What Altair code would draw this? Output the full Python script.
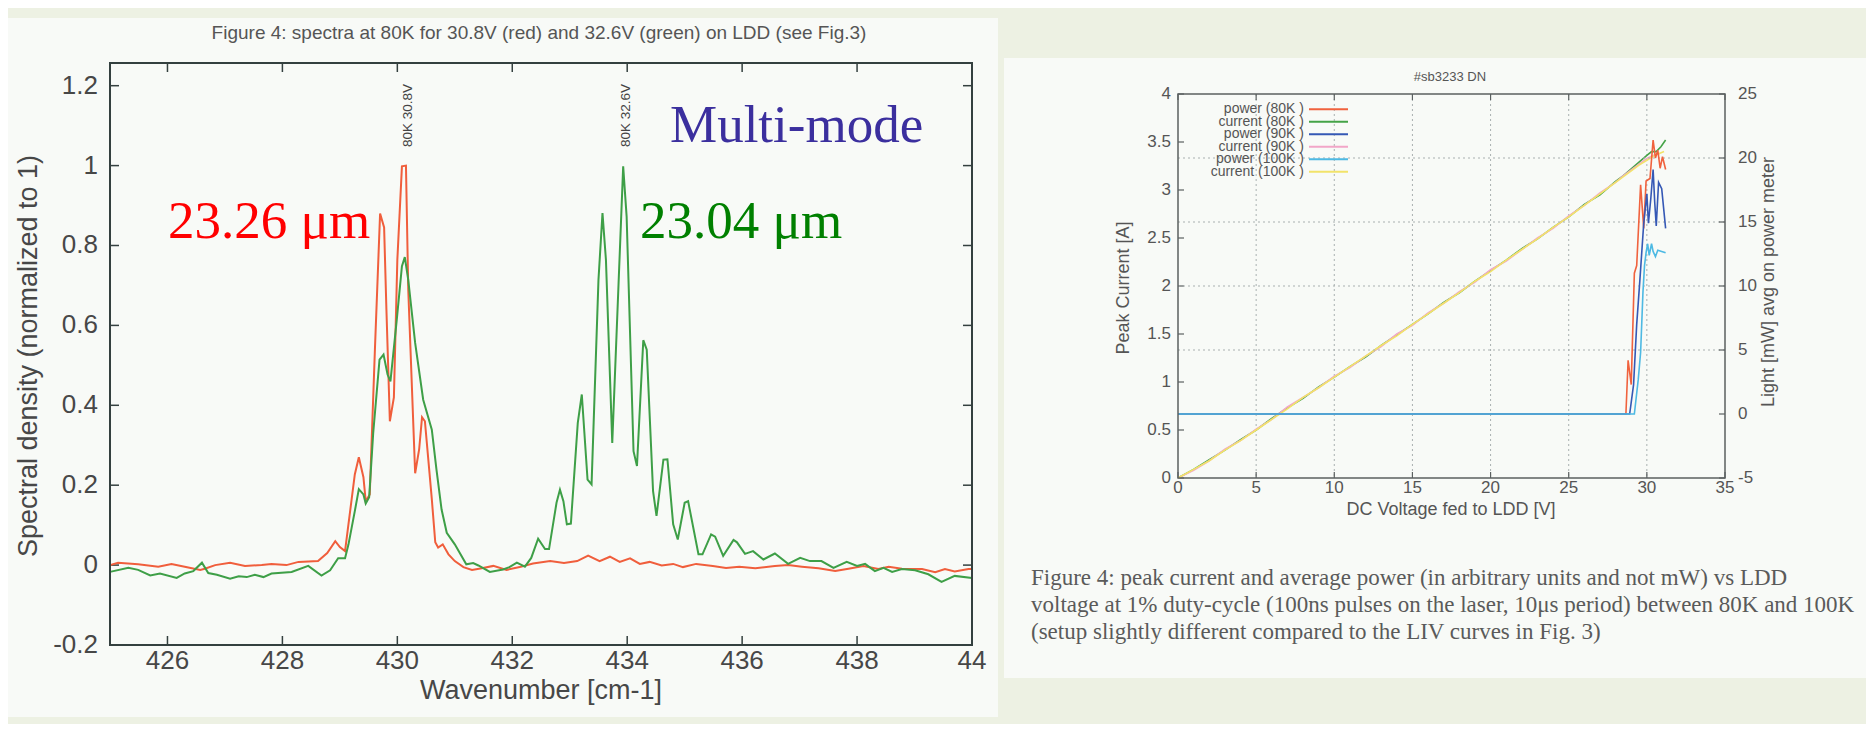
import altair as alt
import pandas as pd

# ------------------------------------------------------------------ data
# Left: spectra (wavenumber [cm-1], normalized spectral density)
red_wn = [425.00, 425.14, 425.49, 425.84, 426.07, 426.30, 426.57, 426.65, 426.83, 427.09,
          427.35, 427.64, 427.81, 428.07, 428.28, 428.62, 428.78, 428.92, 429.00, 429.09,
          429.26, 429.33, 429.41, 429.45, 429.52, 429.61, 429.70, 429.77, 429.81, 429.87,
          429.94, 430.00, 430.08, 430.15, 430.19, 430.31, 430.38, 430.43, 430.48, 430.60,
          430.66, 430.71, 430.79, 430.89, 431.00, 431.15, 431.30, 431.47, 431.67, 431.90,
          432.13, 432.36, 432.66, 432.90, 433.13, 433.32, 433.52, 433.70, 433.87, 434.05,
          434.22, 434.39, 434.60, 434.80, 434.97, 435.20, 435.49, 435.72, 435.95, 436.23,
          436.57, 436.80, 437.04, 437.33, 437.62, 437.85, 438.11, 438.37, 438.55, 438.78,
          439.13, 439.36, 439.53, 439.70, 439.94, 440.00]
red_val = [0.000, 0.006, 0.002, -0.004, 0.003, -0.004, -0.012, -0.009, 0.000, 0.006,
           -0.002, 0.000, 0.003, 0.000, 0.008, 0.010, 0.030, 0.060, 0.045, 0.035,
           0.227, 0.270, 0.220, 0.160, 0.177, 0.540, 0.880, 0.845, 0.640, 0.360,
           0.420, 0.764, 0.998, 1.000, 0.690, 0.230, 0.290, 0.370, 0.360, 0.165,
           0.057, 0.044, 0.052, 0.027, 0.010, -0.005, -0.012, -0.008, -0.002, -0.012,
           -0.005, 0.004, 0.010, 0.005, 0.010, 0.024, 0.010, 0.021, 0.008, 0.017,
           0.003, 0.008, -0.001, 0.003, -0.005, 0.003, -0.002, -0.007, -0.004, -0.008,
           -0.002, 0.000, -0.004, -0.008, -0.015, -0.009, -0.002, -0.010, -0.004, -0.009,
           -0.010, -0.018, -0.010, -0.016, -0.010, -0.010]

green_wn = [425.00, 425.32, 425.49, 425.70, 425.87, 426.16, 426.30, 426.45, 426.60, 426.71,
            426.86, 427.09, 427.24, 427.38, 427.52, 427.67, 427.81, 428.16, 428.45, 428.68,
            428.83, 428.97, 429.09, 429.15, 429.26, 429.33, 429.41, 429.45, 429.51, 429.58,
            429.69, 429.76, 429.83, 429.88, 429.99, 430.08, 430.13, 430.19, 430.31, 430.45,
            430.60, 430.68, 430.77, 430.86, 431.00, 431.20, 431.32, 431.41, 431.61, 431.84,
            431.95, 432.08, 432.22, 432.33, 432.45, 432.57, 432.64, 432.77, 432.83, 432.89,
            432.95, 433.02, 433.14, 433.21, 433.31, 433.38, 433.50, 433.57, 433.63, 433.74,
            433.85, 433.93, 433.99, 434.11, 434.17, 434.28, 434.34, 434.45, 434.51, 434.63,
            434.70, 434.80, 434.88, 435.00, 435.06, 435.24, 435.31, 435.46, 435.53, 435.67,
            435.85, 435.91, 436.05, 436.19, 436.37, 436.57, 436.80, 437.01, 437.18, 437.38,
            437.59, 437.82, 438.00, 438.14, 438.31, 438.46, 438.61, 438.78, 439.01, 439.24,
            439.47, 439.70, 440.00]
green_val = [-0.017, -0.007, -0.012, -0.026, -0.021, -0.032, -0.021, -0.015, 0.006, -0.020,
             -0.024, -0.034, -0.028, -0.030, -0.024, -0.030, -0.021, -0.017, -0.002, -0.026,
             -0.013, 0.017, 0.017, 0.052, 0.135, 0.190, 0.177, 0.154, 0.170, 0.330,
             0.514, 0.527, 0.477, 0.460, 0.614, 0.748, 0.771, 0.714, 0.556, 0.414,
             0.339, 0.240, 0.139, 0.081, 0.052, 0.002, 0.005, -0.001, -0.017, -0.011,
             -0.005, 0.006, -0.004, 0.018, 0.066, 0.040, 0.040, 0.156, 0.189, 0.160,
             0.102, 0.104, 0.356, 0.427, 0.214, 0.202, 0.714, 0.881, 0.764, 0.306,
             0.706, 0.998, 0.873, 0.285, 0.248, 0.563, 0.539, 0.185, 0.123, 0.264,
             0.265, 0.102, 0.064, 0.156, 0.160, 0.027, 0.027, 0.077, 0.071, 0.023,
             0.063, 0.057, 0.028, 0.035, 0.014, 0.029, 0.003, 0.018, 0.010, 0.010,
             -0.007, 0.008, -0.002, 0.003, -0.015, -0.007, -0.017, -0.010, -0.013, -0.023,
             -0.042, -0.027, -0.032]

spec_x_ticks = [426, 428, 430, 432, 434, 436, 438, 440]
spec_y_ticks = [-0.2, 0, 0.2, 0.4, 0.6, 0.8, 1.0, 1.2]

# Right: LIV curves (DC voltage [V] -> peak current [A] / light [mW])
cur80_v = [0, 1, 2, 3, 4, 5, 6, 7, 8, 9, 10, 11, 12, 13, 14, 15, 16, 17, 18, 19, 20,
           21, 22, 23, 24, 25, 26, 27, 28, 28.5, 29, 29.5, 30, 30.3, 30.6, 30.9, 31.2]
cur80_i = [0.00, 0.09, 0.19, 0.29, 0.40, 0.50, 0.62, 0.73, 0.83, 0.95, 1.05, 1.16, 1.26,
           1.38, 1.49, 1.60, 1.71, 1.83, 1.93, 2.05, 2.16, 2.27, 2.39, 2.49, 2.61, 2.72,
           2.85, 2.95, 3.09, 3.15, 3.22, 3.29, 3.36, 3.40, 3.40, 3.45, 3.52]
cur90_v = [0, 1, 2, 3, 4, 5, 6, 7, 8, 9, 10, 11, 12, 13, 14, 15, 16, 17, 18, 19, 20,
           21, 22, 23, 24, 25, 26, 27, 28, 28.5, 29, 29.5, 30, 30.4, 30.8]
cur90_i = [0.00, 0.08, 0.18, 0.30, 0.39, 0.51, 0.61, 0.74, 0.84, 0.94, 1.06, 1.15, 1.27,
           1.37, 1.50, 1.59, 1.72, 1.82, 1.94, 2.04, 2.17, 2.26, 2.38, 2.50, 2.60, 2.73,
           2.84, 2.97, 3.08, 3.15, 3.21, 3.27, 3.33, 3.36, 3.38]
cur100_v = [0, 1, 2, 3, 4, 5, 6, 7, 8, 9, 10, 11, 12, 13, 14, 15, 16, 17, 18, 19, 20,
            21, 22, 23, 24, 25, 26, 27, 28, 28.5, 29, 29.5, 30, 30.5, 31.1]
cur100_i = [0.00, 0.09, 0.18, 0.29, 0.39, 0.50, 0.61, 0.72, 0.84, 0.94, 1.05, 1.16, 1.27,
            1.38, 1.48, 1.60, 1.71, 1.82, 1.93, 2.05, 2.15, 2.27, 2.38, 2.49, 2.61, 2.72,
            2.84, 2.96, 3.08, 3.14, 3.20, 3.26, 3.31, 3.36, 3.40]

pow80_v = [0, 28.66, 28.8, 29.0, 29.2, 29.35, 29.6, 29.8, 29.95, 30.2, 30.4, 30.55,
           30.7, 30.85, 31.0, 31.2]
pow80_p = [0, 0, 4.2, 2.3, 11.0, 11.6, 17.9, 14.5, 18.2, 18.4, 21.4, 20.0,
           20.6, 19.2, 20.1, 19.1]
pow90_v = [0, 28.9, 29.15, 29.35, 29.55, 29.8, 30.0, 30.1, 30.25, 30.4, 30.5, 30.6,
           30.75, 30.95, 31.2]
pow90_p = [0, 0, 2.3, 7.0, 10.4, 14.9, 17.2, 14.9, 16.8, 19.1, 16.6, 14.7,
           18.1, 17.6, 14.5]
pow100_v = [0, 29.2, 29.45, 29.6, 29.75, 29.85, 29.95, 30.05, 30.15, 30.3, 30.4, 30.55,
            30.7, 30.95, 31.2]
pow100_p = [0, 0, 2.7, 4.8, 9.5, 11.6, 12.6, 13.3, 12.4, 13.3, 12.7, 12.3,
            12.8, 12.7, 12.6]

liv_x_ticks = [0, 5, 10, 15, 20, 25, 30, 35]
liv_cur_ticks = [0, 0.5, 1, 1.5, 2, 2.5, 3, 3.5, 4]
liv_pow_ticks = [-5, 0, 5, 10, 15, 20, 25]
liv_grid_x = [5, 10, 15, 20, 25, 30]
liv_grid_p = [5, 10, 15, 20]

legend_labels = ["power (80K )", "current (80K )", "power (90K )",
                 "current (90K )", "power (100K )", "current (100K )"]
legend_colors = ["#F0623E", "#45A347", "#3558B5", "#F2A6C8", "#4DB9E3", "#F2E36A"]
legend_rows = [0, 1, 2, 3, 4, 5]

caption = ("Figure 4:  peak current and average power (in arbitrary units and not mW) vs LDD\n"
           "voltage at 1% duty-cycle (100ns pulses on the laser, 10\u03bcs period) between 80K and 100K\n"
           "(setup slightly different compared to the LIV curves in Fig. 3)")

# ------------------------------------------------------------------ style / layout
W, H = 1858, 716
SANS = "Liberation Sans, Arial, sans-serif"
SERIF = "Liberation Serif, Times New Roman, serif"
BG = "#EDF1E3"
PANEL = "#F8FAF7"
TXT_L = "#474747"
TXT_R = "#555555"
FRAME_L = "#34403F"
FRAME_R = "#5B6060"
RED_L, GREEN_L = "#F05E3C", "#3E9F47"

LX0, LX1, LY0, LY1 = 102, 964, 55, 637      # spectra plot box
RX0, RX1, RY0, RY1 = 1170, 1717, 86, 470    # LIV plot box

one = pd.DataFrame({"k": [0]})


def box(x0, x1, y0, y1, **kw):
    return alt.Chart(one).mark_rect(**kw).encode(
        x=alt.value(x0), x2=alt.value(x1), y=alt.value(y0), y2=alt.value(y1))


def label(txt, x, y, **kw):
    return alt.Chart(one).mark_text(text=txt, **kw).encode(x=alt.value(x), y=alt.value(y))


def xlabels(ticks, scale, y, expr, **kw):
    return alt.Chart(pd.DataFrame({"t": ticks})).transform_calculate(lab=expr).mark_text(
        align="center", baseline="top", **kw).encode(
        x=alt.X("t:Q", scale=scale, axis=None), y=alt.value(y), text="lab:N")


def ylabels(ticks, scale, x, align, **kw):
    return alt.Chart(pd.DataFrame({"t": ticks})).transform_calculate(
        lab="toString(datum.t)").mark_text(align=align, baseline="middle", **kw).encode(
        y=alt.Y("t:Q", scale=scale, axis=None), x=alt.value(x), text="lab:N")


# ------------------------------------------------------------------ left: spectra
sx_l = alt.Scale(domain=[425, 440], range=[LX0, LX1], nice=False, zero=False)
sy_l = alt.Scale(domain=[-0.2, 1.2568], range=[LY1, LY0], nice=False, zero=False)

df_red = pd.DataFrame({"wn": red_wn, "val": red_val})
df_green = pd.DataFrame({"wn": green_wn, "val": green_val})
line_red = alt.Chart(df_red).mark_line(color=RED_L, strokeWidth=2).encode(
    x=alt.X("wn:Q", scale=sx_l, axis=None), y=alt.Y("val:Q", scale=sy_l, axis=None))
line_green = alt.Chart(df_green).mark_line(color=GREEN_L, strokeWidth=2).encode(
    x=alt.X("wn:Q", scale=sx_l, axis=None), y=alt.Y("val:Q", scale=sy_l, axis=None))

df_sxt = pd.DataFrame({"t": spec_x_ticks})
df_syt = pd.DataFrame({"t": spec_y_ticks})
tk_l = dict(color=FRAME_L, strokeWidth=1.5)
TL = 9
l_tb = alt.Chart(df_sxt).mark_rule(**tk_l).encode(
    x=alt.X("t:Q", scale=sx_l, axis=None), y=alt.value(LY1), y2=alt.value(LY1 - TL))
l_tt = alt.Chart(df_sxt).mark_rule(**tk_l).encode(
    x=alt.X("t:Q", scale=sx_l, axis=None), y=alt.value(LY0), y2=alt.value(LY0 + TL))
l_tl = alt.Chart(df_syt).mark_rule(**tk_l).encode(
    y=alt.Y("t:Q", scale=sy_l, axis=None), x=alt.value(LX0), x2=alt.value(LX0 + TL))
l_tr = alt.Chart(df_syt).mark_rule(**tk_l).encode(
    y=alt.Y("t:Q", scale=sy_l, axis=None), x=alt.value(LX1 - TL), x2=alt.value(LX1))

l_xlab = xlabels(spec_x_ticks, sx_l, LY1 + 3,
                 "datum.t == 440 ? '44' : toString(datum.t)",
                 font=SANS, fontSize=26, color=TXT_L)
l_ylab = ylabels(spec_y_ticks, sy_l, LX0 - 12, "right", font=SANS, fontSize=26, color=TXT_L)

left = alt.layer(l_tb, l_tt, l_tl, l_tr, l_xlab, l_ylab, line_red, line_green)

# ------------------------------------------------------------------ right: LIV
sx_r = alt.Scale(domain=[0, 35], range=[RX0, RX1], nice=False, zero=False)
sy_c = alt.Scale(domain=[0, 4], range=[RY1, RY0], nice=False, zero=False)
sy_p = alt.Scale(domain=[-5, 25], range=[RY1, RY0], nice=False, zero=False)


def cur_line(v, i, color):
    df = pd.DataFrame({"v": v, "i": i})
    return alt.Chart(df).mark_line(color=color, strokeWidth=1.6).encode(
        x=alt.X("v:Q", scale=sx_r, axis=None), y=alt.Y("i:Q", scale=sy_c, axis=None))


def pow_line(v, p, color):
    df = pd.DataFrame({"v": v, "p": p})
    return alt.Chart(df).mark_line(color=color, strokeWidth=1.6).encode(
        x=alt.X("v:Q", scale=sx_r, axis=None), y=alt.Y("p:Q", scale=sy_p, axis=None))


grid_style = dict(color="#A9B0B0", strokeWidth=1, strokeDash=[2, 3])
r_gx = alt.Chart(pd.DataFrame({"t": liv_grid_x})).mark_rule(**grid_style).encode(
    x=alt.X("t:Q", scale=sx_r, axis=None), y=alt.value(RY0), y2=alt.value(RY1))
r_gp = alt.Chart(pd.DataFrame({"t": liv_grid_p})).mark_rule(**grid_style).encode(
    y=alt.Y("t:Q", scale=sy_p, axis=None), x=alt.value(RX0), x2=alt.value(RX1))

tk_r = dict(color=FRAME_R, strokeWidth=1.2)
TR = 6
df_rxt = pd.DataFrame({"t": liv_x_ticks})
df_rct = pd.DataFrame({"t": liv_cur_ticks})
df_rpt = pd.DataFrame({"t": liv_pow_ticks})
r_tb = alt.Chart(df_rxt).mark_rule(**tk_r).encode(
    x=alt.X("t:Q", scale=sx_r, axis=None), y=alt.value(RY1), y2=alt.value(RY1 - TR))
r_tt = alt.Chart(df_rxt).mark_rule(**tk_r).encode(
    x=alt.X("t:Q", scale=sx_r, axis=None), y=alt.value(RY0), y2=alt.value(RY0 + TR))
r_tl = alt.Chart(df_rct).mark_rule(**tk_r).encode(
    y=alt.Y("t:Q", scale=sy_c, axis=None), x=alt.value(RX0), x2=alt.value(RX0 + TR))
r_tr = alt.Chart(df_rpt).mark_rule(**tk_r).encode(
    y=alt.Y("t:Q", scale=sy_p, axis=None), x=alt.value(RX1 - TR), x2=alt.value(RX1))

r_xlab = xlabels(liv_x_ticks, sx_r, RY1 + 2, "toString(datum.t)",
                 font=SANS, fontSize=17, color=TXT_R)
r_clab = ylabels(liv_cur_ticks, sy_c, RX0 - 7, "right", font=SANS, fontSize=17, color=TXT_R)
r_plab = ylabels(liv_pow_ticks, sy_p, RX1 + 13, "left", font=SANS, fontSize=17, color=TXT_R)

right_cur = alt.layer(
    r_gx, r_tb, r_tt, r_tl, r_xlab, r_clab,
    cur_line(cur80_v, cur80_i, legend_colors[1]),
    cur_line(cur90_v, cur90_i, legend_colors[3]),
    cur_line(cur100_v, cur100_i, legend_colors[5]),
)
right_pow = alt.layer(
    r_gp, r_tr, r_plab,
    pow_line(pow80_v, pow80_p, legend_colors[0]),
    pow_line(pow90_v, pow90_p, legend_colors[2]),
    pow_line(pow100_v, pow100_p, legend_colors[4]),
)
right = alt.layer(right_cur, right_pow).resolve_scale(y="independent")

# legend (gnuplot style: label, then line sample)
df_leg = pd.DataFrame({"label": legend_labels, "color": legend_colors, "row": legend_rows})
leg_text = alt.Chart(df_leg).mark_text(
    align="right", baseline="middle", font=SANS, fontSize=14, color=TXT_R
).transform_calculate(py="101.3 + 12.5 * datum.row").encode(
    x=alt.value(1296), y=alt.Y("py:Q", scale=None, axis=None), text="label:N")
leg_line = alt.Chart(df_leg).mark_rule(strokeWidth=2).transform_calculate(
    py="101.3 + 12.5 * datum.row").encode(
    x=alt.value(1301), x2=alt.value(1340), y=alt.Y("py:Q", scale=None, axis=None),
    color=alt.Color("color:N", scale=None, legend=None))

# ------------------------------------------------------------------ decoration / titles
bg_left = box(0, 990, 10, 709, color=PANEL)
bg_right = box(996, W, 50, 670, color=PANEL)
frame_left = box(LX0, LX1, LY0, LY1, fillOpacity=0, stroke=FRAME_L, strokeWidth=2)
frame_right = box(RX0, RX1, RY0, RY1, fillOpacity=0, stroke=FRAME_R, strokeWidth=1.5)

title_left = label("Figure 4: spectra at 80K for 30.8V (red) and 32.6V (green) on LDD (see Fig.3)",
                   531, 25, font=SANS, fontSize=19, color="#555555", align="center",
                   baseline="middle")
l_xtitle = label("Wavenumber [cm-1]", 533, 683, font=SANS, fontSize=27, color=TXT_L,
                 align="center", baseline="middle")
l_ytitle = label("Spectral density (normalized to 1)", 21, 348, font=SANS, fontSize=27,
                 color=TXT_L, angle=270, align="center", baseline="middle")
peak1 = label("80K 30.8V", 400, 139, font=SANS, fontSize=13.5, color="#444444",
              angle=270, align="left", baseline="middle")
peak2 = label("80K 32.6V", 618, 139, font=SANS, fontSize=13.5, color="#444444",
              angle=270, align="left", baseline="middle")
ann_red = label("23.26 \u03bcm", 160, 230, font=SERIF, fontSize=53, color="#FF0000",
                align="left", baseline="alphabetic")
ann_green = label("23.04 \u03bcm", 632, 230, font=SERIF, fontSize=53, color="#008000",
                  align="left", baseline="alphabetic")
ann_multi = label("Multi-mode", 662, 134, font=SERIF, fontSize=53, color="#3B2F9E",
                  align="left", baseline="alphabetic")
title_right = label("#sb3233 DN", 1442, 69, font=SANS, fontSize=13, color=TXT_R,
                    align="center", baseline="middle")
r_xtitle = label("DC Voltage fed to LDD [V]", 1443, 502, font=SANS, fontSize=18,
                 color=TXT_R, align="center", baseline="middle")
r_ctitle = label("Peak Current [A]", 1116, 280, font=SANS, fontSize=18, color=TXT_R,
                 angle=270, align="center", baseline="middle")
r_ptitle = label("Light [mW] avg on power meter", 1761, 274, font=SANS, fontSize=18,
                 color=TXT_R, angle=270, align="center", baseline="middle")
cap = alt.Chart(pd.DataFrame({"t": [caption]})).mark_text(
    font=SERIF, fontSize=23, color="#5A5A5A", align="left", baseline="alphabetic",
    lineBreak="\n", lineHeight=27).encode(x=alt.value(1023), y=alt.value(577), text="t:N")

chart = alt.layer(
    bg_left, bg_right,
    left, right,
    frame_left, frame_right,
    leg_line, leg_text,
    title_left, l_xtitle, l_ytitle, peak1, peak2, ann_red, ann_green, ann_multi,
    title_right, r_xtitle, r_ctitle, r_ptitle, cap,
).resolve_scale(x="independent", y="independent").properties(
    width=W, height=H, autosize=alt.AutoSizeParams(type="none"), padding=0,
    background=BG,
).configure_view(stroke=None)

chart.save("out.html", embed_options={"renderer": "svg", "actions": False})
